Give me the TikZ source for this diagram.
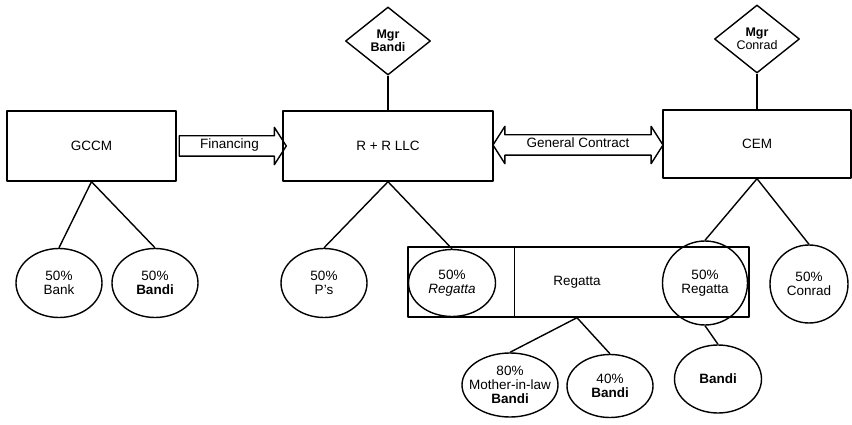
\documentclass[tikz,border=0pt]{standalone}
\usepackage{fontspec}
\setmainfont{Liberation Sans}
\usetikzlibrary{positioning,calc,shapes.geometric,shapes.arrows}

\begin{document}
\begin{tikzpicture}[x=1pt,y=-1pt,line width=1.4pt,line join=round,
    every node/.style={font=\fontsize{13.5}{14}\selectfont,align=center},
    box/.style={rectangle,draw,minimum height=70pt},
    owner/.style={ellipse,draw,inner sep=0pt},
    mgr/.style={diamond,draw,aspect=1.25,minimum width=85pt,minimum height=68pt,inner sep=0pt,font=\fontsize{12.5}{11}\selectfont},
    deal/.style={draw,text height=9pt,text depth=3pt,inner ysep=3.5pt}]
    \useasboundingbox (0,0) rectangle (852,425);
    \node[box,minimum width=169pt] (gccm) at (91.5,146) {GCCM};
    \node[box,minimum width=210pt] (rr) at (388,146) {R + R LLC};
    \node[box,minimum width=188pt,minimum height=68pt] (cem) at (757,144) {CEM};
    \node[mgr] (mgrB) at (388,41) {\textbf{Mgr}\\\textbf{Bandi}};
    \node[mgr] (mgrC) at (757,39) {\textbf{Mgr}\\Conrad};
    \node[deal,single arrow,single arrow head extend=8.5pt,single arrow tip angle=115,minimum height=107pt] (fin) at ($(gccm.east)!0.5!(rr.west)$) {Financing};
    \node[deal,double arrow,double arrow head extend=8.5pt,double arrow tip angle=115,minimum height=170pt] (gc) at ($(rr.east)!0.5!(cem.west)$) {General Contract};
    \node[owner,minimum width=86pt,minimum height=69pt] (bank) at (59,283) {50\%\\Bank};
    \node[owner,minimum width=86pt,minimum height=69pt] (bandiA) at (155,283) {50\%\\\textbf{Bandi}};
    \node[owner,minimum width=86pt,minimum height=69pt] (ps) at (324,283) {50\%\\P's};
    % Regatta holding box
    \node[box,minimum width=341pt] (regbox) at (578.5,282) {};
    \draw ([xshift=107pt]regbox.north west) -- ([xshift=107pt]regbox.south west);
    \node (regtxt) at (577,282) {Regatta};
    \node[owner,minimum width=87pt,minimum height=67pt] (regL) at (452,283) {50\%\\\textit{Regatta}};
    \node[owner,minimum width=85pt,minimum height=84pt] (regR) at (705,283) {50\%\\Regatta};
    \node[owner,minimum width=78pt,minimum height=78pt] (conrad) at (809,284) {50\%\\Conrad};
    \node[owner,minimum width=96pt,minimum height=64pt] (mil) at (510,385) {80\%\\\makebox[0pt]{Mother-in-law}\\\textbf{Bandi}};
    \node[owner,minimum width=86pt,minimum height=63pt] (bandiB) at (610,386) {40\%\\\textbf{Bandi}};
    \node[owner,minimum width=87pt,minimum height=68pt] (bandiC) at (718,379) {\textbf{Bandi}};
    \draw (mgrB) -- (rr);
    \draw (mgrC) -- (cem);
    \draw (bank.north) -- (gccm.south) -- (bandiA.north);
    \draw (ps.north) -- (rr.south) -- (regL.north);
    \draw (regR.north) -- (cem.south) -- (conrad.north);
    \draw (mil.north) -- (regtxt |- regbox.south) -- (bandiB.north);
    \draw (regR.south) -- (bandiC.north);
\end{tikzpicture}
\end{document}
